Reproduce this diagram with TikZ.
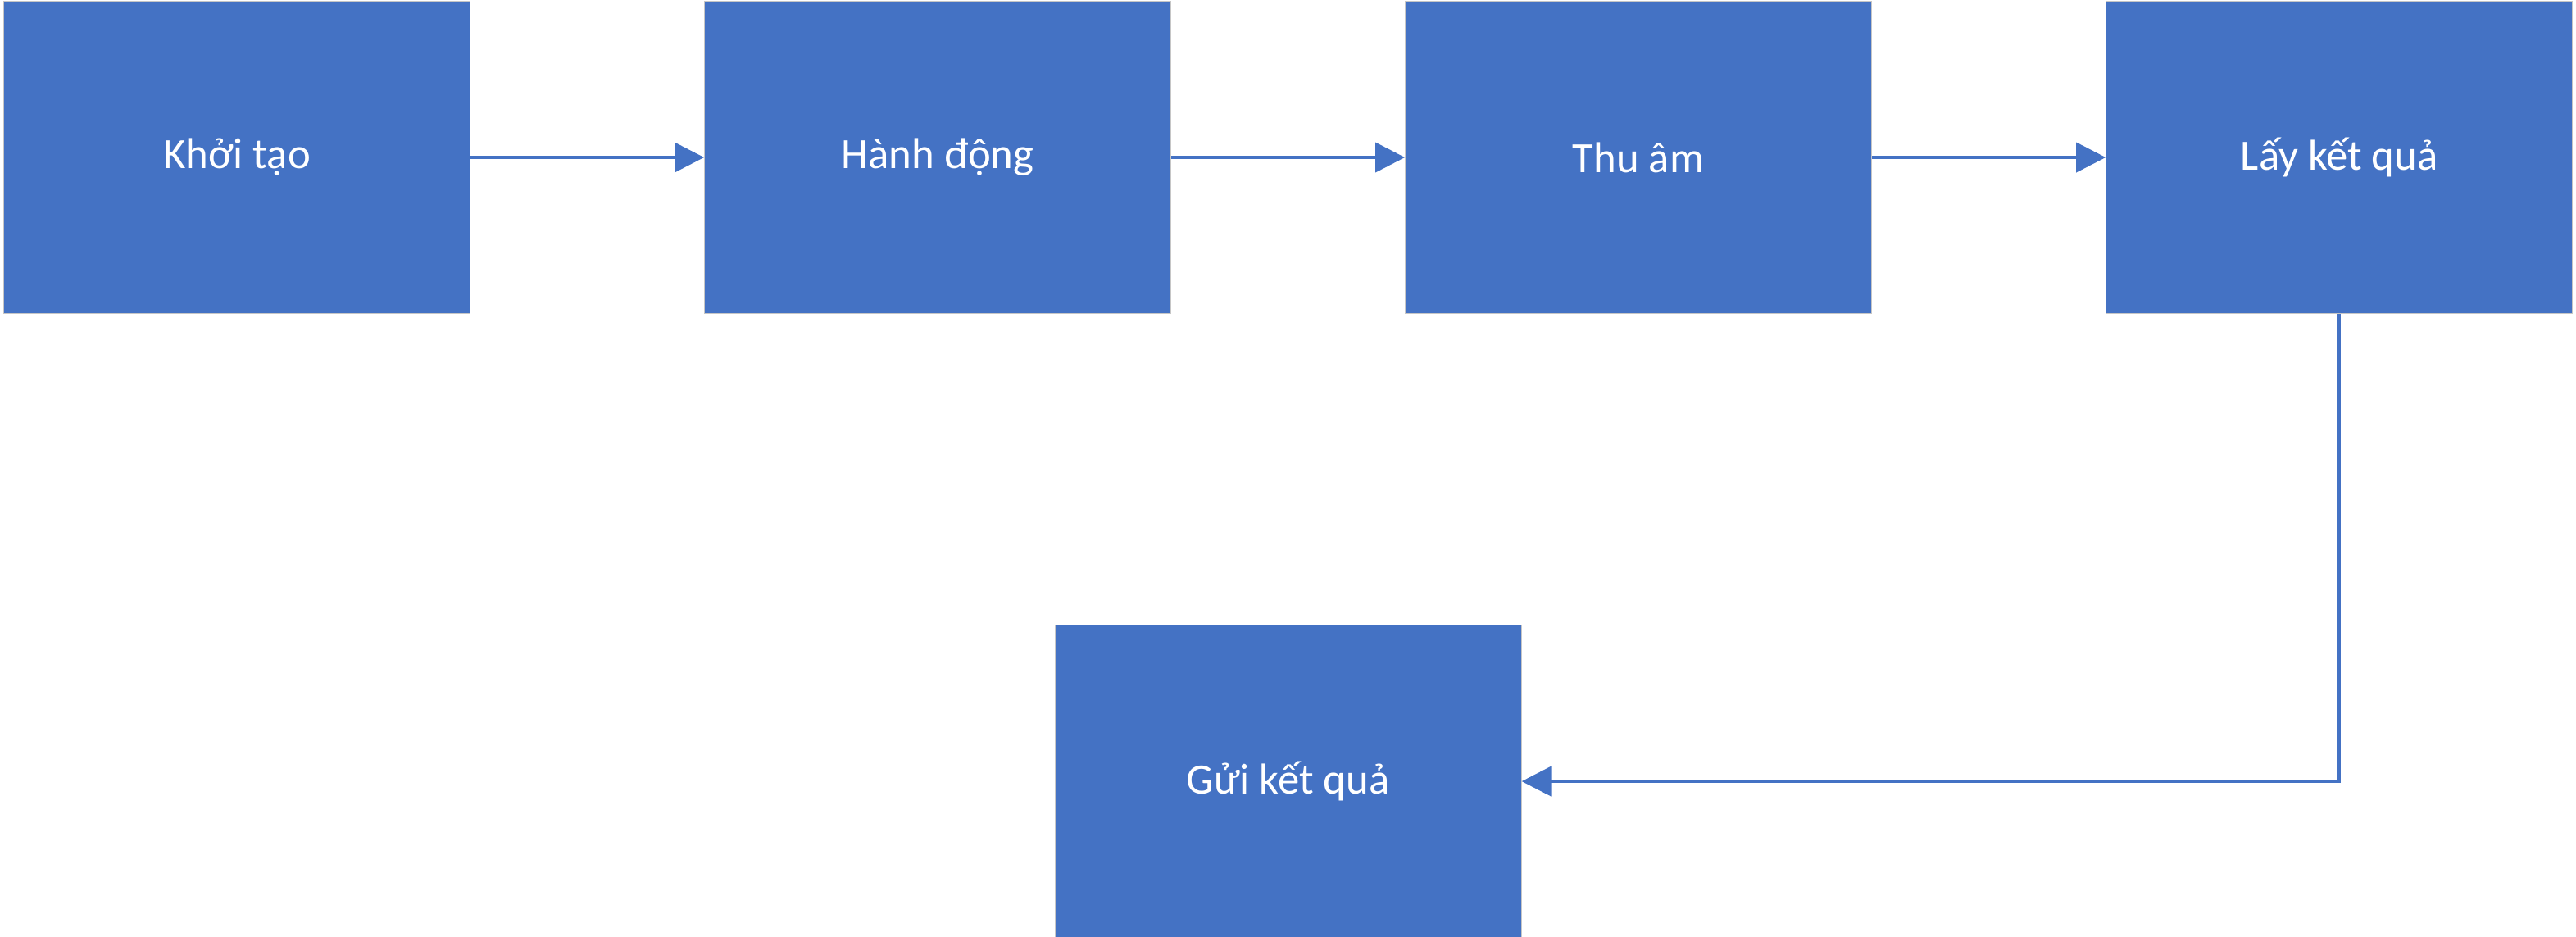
\documentclass[tikz,border=0pt]{standalone}
\usepackage{fontspec}
\setmainfont{Carlito}
\usepackage{tikz}
\usetikzlibrary{positioning, arrows.meta, calc}

\definecolor{khoixanh}{HTML}{4472C4}

\begin{document}
\begin{tikzpicture}[
            khoi/.style={rectangle, fill=khoixanh, draw=gray!45, line width=0.3pt,
                         minimum width=5.69cm, minimum height=3.81cm, inner sep=0pt,
                         text=white, font=\fontsize{15}{18}\selectfont}, % Blue step box
            noi/.style={draw=khoixanh, line width=1.1pt,
                        -{Triangle[length=0.36cm, width=0.36cm]}}, % Connector
            node distance=2.85cm
            ]

        % Fix the page size
        \useasboundingbox (0,0) rectangle (31.43,-11.43);

        % Top row
        \node[khoi, anchor=north west] (khoitao) at (0.04,-0.01) {Khởi tạo};
        \node[khoi, right=of khoitao] (hanhdong) {Hành động};
        \node[khoi, right=of hanhdong] (thuam) {Thu âm};
        \node[khoi, right=of thuam] (layketqua) {Lấy kết quả};

        % Bottom box, centred under the gap between the second and third box
        \coordinate (giua) at ($(hanhdong.south east)!0.5!(thuam.south west)$);
        \node[khoi, below=3.79cm of giua] (guiketqua) {Gửi kết quả};

        % Connectors
        \draw[noi] (khoitao) -- (hanhdong);
        \draw[noi] (hanhdong) -- (thuam);
        \draw[noi] (thuam) -- (layketqua);
        \draw[noi] (layketqua.south) |- (guiketqua.east);

\end{tikzpicture}
\end{document}
